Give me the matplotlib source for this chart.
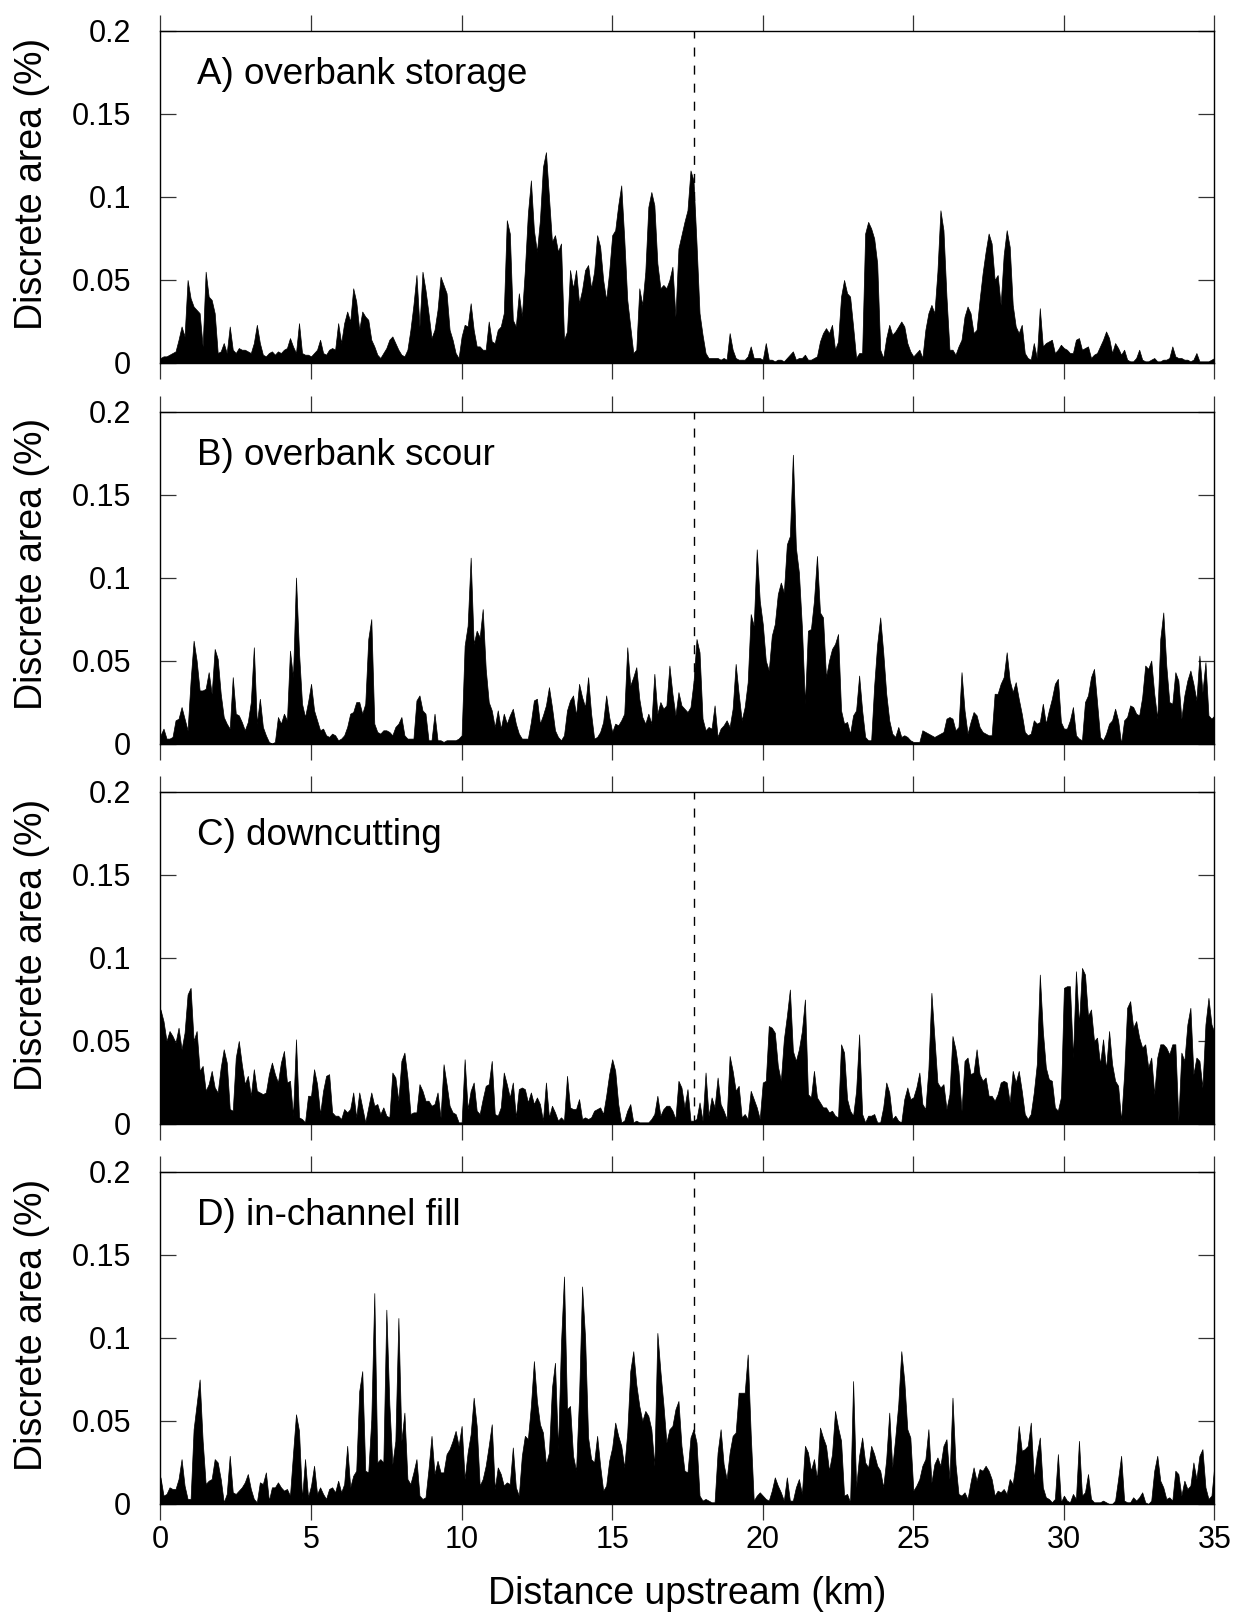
import numpy as np
import matplotlib
matplotlib.use('Agg')
import matplotlib.pyplot as plt

# Distance upstream (km), sampled every 0.1 km from 0 to 35 km
distance_km = np.round(np.arange(351) * 0.1, 1)

# Discrete area values in thousandths of a percent (value / 1000 = %)
storage_milli = [
    3, 4, 4, 5, 6, 7, 14, 22, 16, 50,
    39, 34, 32, 30, 10, 55, 40, 38, 30, 6,
    7, 12, 6, 22, 8, 6, 9, 8, 8, 7,
    6, 12, 23, 12, 5, 4, 6, 7, 5, 7,
    6, 8, 9, 15, 10, 6, 24, 6, 5, 5,
    4, 6, 8, 14, 6, 5, 8, 9, 8, 24,
    12, 24, 31, 25, 45, 37, 20, 31, 28, 26,
    14, 10, 5, 3, 6, 9, 14, 16, 12, 8,
    5, 4, 8, 20, 35, 53, 22, 55, 44, 30,
    15, 20, 32, 52, 47, 42, 20, 14, 6, 3,
    16, 23, 22, 36, 20, 10, 10, 8, 8, 25,
    13, 12, 20, 22, 30, 86, 78, 26, 22, 42,
    28, 56, 90, 110, 80, 67, 86, 118, 127, 100,
    73, 77, 67, 72, 14, 19, 56, 45, 56, 36,
    44, 56, 59, 45, 55, 77, 70, 50, 38, 55,
    77, 80, 95, 107, 75, 38, 22, 6, 8, 45,
    35, 55, 94, 103, 95, 60, 45, 47, 45, 50,
    58, 28, 69, 77, 85, 92, 116, 110, 72, 30,
    17, 6, 3, 3, 3, 3, 2, 3, 2, 18,
    8, 3, 2, 2, 2, 4, 10, 3, 3, 3,
    2, 12, 2, 2, 1, 2, 2, 1, 3, 5,
    7, 2, 3, 3, 5, 2, 2, 3, 4, 13,
    18, 21, 18, 23, 8, 13, 40, 50, 42, 40,
    22, 3, 6, 6, 78, 85, 81, 75, 60, 8,
    3, 15, 23, 17, 19, 22, 25, 22, 12, 7,
    4, 6, 8, 3, 20, 30, 35, 30, 55, 92,
    80, 40, 8, 8, 5, 10, 14, 28, 34, 30,
    18, 20, 38, 54, 67, 78, 72, 50, 53, 35,
    65, 80, 70, 35, 22, 18, 23, 6, 3, 2,
    12, 3, 33, 10, 12, 13, 14, 6, 8, 11,
    9, 8, 6, 6, 14, 15, 8, 9, 10, 3,
    5, 6, 10, 14, 19, 15, 6, 12, 9, 5,
    8, 2, 1, 1, 3, 8, 2, 1, 1, 2,
    3, 1, 1, 2, 2, 3, 10, 4, 3, 3,
    2, 2, 1, 2, 6, 1, 1, 1, 1, 2,
    3,
]

scour_milli = [
    5, 9, 3, 3, 4, 14, 15, 22, 15, 8,
    38, 62, 50, 32, 32, 33, 43, 30, 57, 51,
    30, 16, 12, 9, 40, 18, 17, 13, 8, 13,
    25, 58, 12, 27, 10, 5, 1, 0, 1, 16,
    12, 18, 14, 56, 40, 100, 55, 24, 16, 25,
    36, 20, 14, 8, 9, 5, 4, 6, 5, 2,
    3, 5, 10, 18, 19, 25, 25, 18, 24, 63,
    75, 12, 7, 6, 8, 8, 7, 5, 10, 12,
    16, 5, 3, 3, 3, 26, 29, 20, 18, 2,
    2, 18, 2, 2, 1, 2, 2, 2, 2, 3,
    5, 59, 71, 112, 60, 68, 64, 81, 45, 25,
    20, 10, 20, 9, 18, 12, 17, 21, 12, 6,
    3, 3, 3, 13, 26, 27, 12, 17, 23, 34,
    22, 8, 4, 2, 5, 20, 26, 29, 17, 36,
    28, 22, 40, 18, 3, 4, 7, 13, 29, 16,
    7, 12, 11, 14, 18, 58, 35, 40, 46, 27,
    16, 12, 18, 12, 42, 18, 25, 21, 23, 47,
    30, 17, 31, 23, 21, 19, 22, 37, 63, 55,
    15, 8, 10, 9, 23, 4, 9, 11, 14, 10,
    21, 48, 30, 14, 22, 37, 78, 71, 117, 86,
    72, 50, 44, 65, 72, 90, 97, 91, 120, 125,
    174, 118, 103, 70, 24, 68, 69, 86, 113, 79,
    76, 40, 50, 57, 60, 66, 20, 12, 13, 6,
    17, 20, 41, 20, 4, 2, 2, 35, 60, 76,
    55, 30, 14, 6, 4, 10, 4, 5, 4, 2,
    1, 1, 1, 8, 7, 6, 5, 4, 5, 6,
    7, 15, 16, 15, 8, 10, 43, 20, 6, 13,
    19, 17, 10, 7, 6, 5, 5, 30, 30, 36,
    40, 55, 38, 31, 37, 27, 18, 7, 5, 6,
    14, 12, 13, 24, 12, 20, 27, 36, 39, 13,
    9, 9, 14, 22, 5, 3, 2, 25, 29, 40,
    45, 25, 4, 2, 6, 12, 14, 21, 14, 0,
    14, 16, 23, 22, 18, 17, 28, 47, 45, 50,
    30, 15, 63, 79, 47, 25, 24, 43, 38, 15,
    29, 38, 44, 36, 26, 53, 31, 49, 17, 15,
    17,
]

downcutting_milli = [
    69, 62, 50, 56, 53, 49, 58, 45, 55, 78,
    82, 50, 56, 32, 35, 20, 24, 32, 22, 19,
    34, 45, 37, 9, 8, 40, 50, 36, 24, 29,
    17, 33, 20, 19, 18, 19, 30, 37, 30, 25,
    37, 44, 25, 26, 5, 51, 4, 3, 1, 17,
    17, 33, 24, 6, 20, 29, 30, 7, 5, 5,
    3, 9, 7, 9, 19, 4, 19, 10, 1, 10,
    19, 11, 12, 6, 10, 5, 4, 31, 28, 14,
    38, 43, 28, 6, 7, 7, 24, 20, 14, 14,
    11, 12, 19, 4, 36, 24, 11, 7, 6, 1,
    1, 39, 9, 20, 25, 8, 6, 15, 23, 24,
    38, 6, 5, 10, 31, 24, 16, 25, 4, 21,
    22, 21, 13, 19, 12, 16, 12, 2, 25, 4,
    11, 7, 2, 4, 2, 29, 10, 9, 9, 15,
    3, 4, 3, 4, 8, 9, 10, 6, 17, 30,
    39, 32, 12, 1, 2, 8, 12, 1, 2, 1,
    1, 1, 1, 3, 6, 17, 5, 9, 11, 11,
    8, 3, 26, 22, 10, 21, 2, 2, 3, 13,
    2, 31, 5, 16, 10, 28, 12, 8, 3, 41,
    32, 20, 23, 4, 6, 3, 20, 15, 10, 3,
    25, 26, 59, 58, 55, 35, 26, 51, 65, 81,
    44, 38, 45, 56, 75, 18, 16, 32, 16, 13,
    10, 10, 7, 8, 5, 4, 48, 43, 15, 8,
    5, 20, 54, 6, 1, 5, 5, 6, 1, 1,
    10, 25, 19, 3, 5, 2, 1, 15, 22, 15,
    16, 22, 31, 12, 9, 33, 79, 52, 25, 22,
    24, 9, 18, 53, 45, 32, 8, 38, 40, 30,
    31, 45, 30, 26, 28, 17, 17, 14, 18, 25,
    26, 25, 13, 32, 25, 32, 20, 6, 3, 6,
    19, 36, 90, 56, 34, 27, 26, 10, 8, 16,
    82, 83, 83, 40, 92, 60, 94, 90, 65, 69,
    50, 52, 36, 51, 33, 56, 36, 26, 23, 2,
    30, 70, 74, 58, 62, 52, 46, 48, 34, 40,
    18, 40, 48, 48, 46, 42, 48, 48, 2, 43,
    38, 60, 70, 30, 40, 38, 22, 60, 76, 60,
    55,
]

fill_milli = [
    16, 5, 6, 10, 9, 9, 15, 27, 11, 3,
    3, 45, 60, 75, 38, 12, 14, 15, 27, 25,
    15, 1, 6, 29, 7, 6, 8, 10, 13, 18,
    9, 3, 1, 13, 12, 19, 2, 10, 10, 13,
    10, 8, 9, 5, 30, 54, 44, 3, 27, 4,
    11, 23, 6, 10, 6, 3, 9, 10, 7, 14,
    7, 12, 35, 10, 17, 20, 68, 80, 20, 19,
    51, 127, 25, 27, 25, 117, 60, 24, 38, 112,
    38, 55, 15, 12, 19, 27, 5, 3, 4, 21,
    41, 18, 26, 19, 19, 30, 33, 38, 44, 35,
    47, 15, 31, 42, 64, 47, 11, 15, 23, 35,
    48, 9, 22, 18, 11, 13, 12, 34, 10, 5,
    29, 41, 39, 59, 86, 62, 48, 43, 24, 31,
    70, 85, 33, 97, 137, 57, 59, 29, 20, 65,
    131, 100, 40, 27, 25, 41, 23, 8, 11, 26,
    34, 49, 41, 35, 22, 43, 80, 92, 72, 59,
    50, 56, 53, 45, 23, 103, 80, 60, 37, 45,
    47, 57, 62, 35, 20, 19, 40, 45, 37, 5,
    2, 3, 2, 1, 1, 31, 45, 24, 15, 31,
    41, 43, 67, 67, 67, 90, 42, 2, 5, 7,
    5, 3, 2, 8, 16, 11, 7, 2, 16, 2,
    2, 10, 15, 6, 35, 31, 20, 27, 15, 46,
    40, 35, 20, 30, 56, 46, 38, 5, 6, 1,
    74, 10, 29, 40, 25, 22, 35, 30, 23, 20,
    10, 27, 55, 22, 40, 60, 92, 74, 45, 40,
    8, 11, 15, 23, 27, 45, 13, 24, 28, 23,
    35, 39, 15, 64, 24, 6, 5, 7, 3, 13,
    22, 14, 21, 20, 23, 20, 15, 5, 8, 7,
    9, 6, 15, 12, 25, 47, 32, 33, 35, 49,
    15, 30, 40, 10, 4, 3, 1, 3, 30, 1,
    5, 2, 1, 6, 3, 38, 5, 7, 18, 3,
    1, 1, 1, 2, 1, 0, 0, 2, 15, 29,
    2, 1, 1, 4, 2, 4, 7, 1, 0, 2,
    20, 29, 14, 10, 3, 4, 2, 20, 18, 5,
    14, 9, 11, 25, 15, 29, 33, 10, 3, 5,
    24,
]

panel_labels = ["A) overbank storage", "B) overbank scour",
                "C) downcutting", "D) in-channel fill"]
x_ticks = [0, 5, 10, 15, 20, 25, 30, 35]
x_tick_labels = ["0", "5", "10", "15", "20", "25", "30", "35"]
y_ticks = [0, 0.05, 0.1, 0.15, 0.2]
y_tick_labels = ["0", "0.05", "0.1", "0.15", "0.2"]
divide_km = 17.72

plt.rcParams['font.family'] = ['Liberation Sans', 'DejaVu Sans']

fig = plt.figure(figsize=(12.46, 16.14), dpi=100)
left, width, height = 0.1288, 0.8459, 0.2057
bottoms = [0.7751, 0.5393, 0.3036, 0.0682]
series_list = [storage_milli, scour_milli, downcutting_milli, fill_milli]

for i, (series, label) in enumerate(zip(series_list, panel_labels)):
    ax = fig.add_axes([left, bottoms[i], width, height])
    vals = np.array(series, dtype=float) / 1000.0
    ax.axvline(divide_km, color='black', lw=1.0, ls=(0, (6.5, 6.5)), zorder=1)
    ax.fill_between(distance_km, 0, vals, color='black', lw=0.5, zorder=2)
    ax.set_xlim(0, 35)
    ax.set_ylim(0, 0.2)
    ax.set_xticks(x_ticks)
    ax.set_xticklabels(x_tick_labels)
    ax.set_yticks(y_ticks)
    ax.set_yticklabels(y_tick_labels)
    ax.tick_params(axis='x', direction='out', length=11.5, width=0.9,
                   top=True, bottom=True, labelbottom=(i == 3),
                   labelsize=22, pad=4, color='#333333')
    ax.tick_params(axis='y', direction='in', length=11.5, width=0.9,
                   left=True, right=True, labelsize=22, pad=21, color='#333333')
    for s in ax.spines.values():
        s.set_linewidth(1.0)
    ax.set_ylabel('Discrete area (%)', fontsize=27, va='center')
    ax.yaxis.set_label_coords(-0.122, 0.54)
    ax.text(0.035, 0.868, label, transform=ax.transAxes, fontsize=26.5,
            va='center', ha='left')
    if i == 3:
        ax.set_xlabel('Distance upstream (km)', fontsize=27, va='center')
        ax.xaxis.set_label_coords(0.5, -0.27)

fig.savefig('out.png', dpi=100)
